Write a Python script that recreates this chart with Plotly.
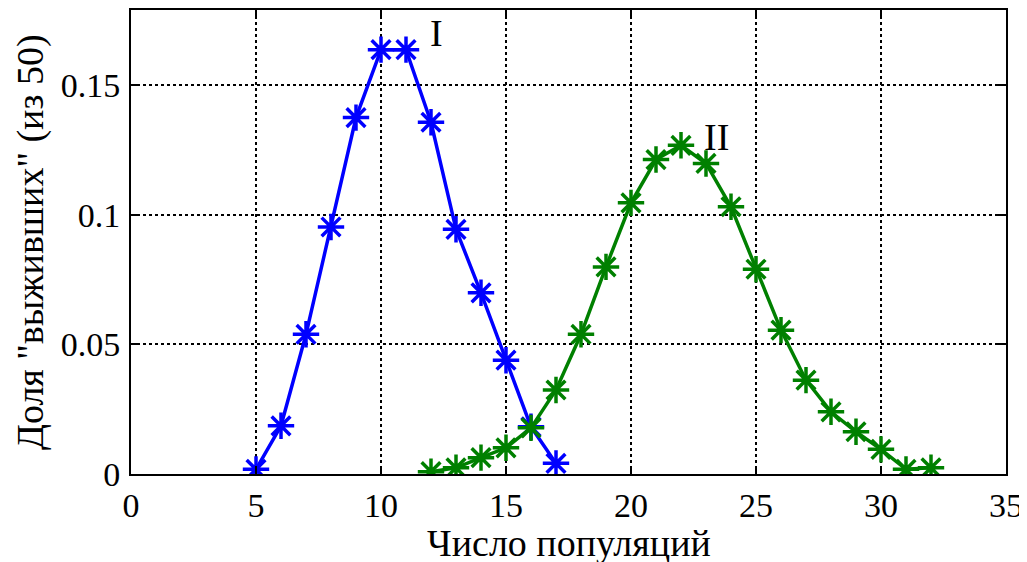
import plotly.graph_objects as go

# Data
x_I = [5, 6, 7, 8, 9, 10, 11, 12, 13, 14, 15, 16, 17]
y_I = [0.0018, 0.0186, 0.0539, 0.0953, 0.1375, 0.1637, 0.1637, 0.1357,
       0.0944, 0.0699, 0.0439, 0.0182, 0.0041]

x_II = [12, 13, 14, 15, 16, 17, 18, 19, 20, 21, 22, 23, 24, 25, 26, 27, 28,
        29, 30, 31, 32]
y_II = [0.0009, 0.0024, 0.0063, 0.0101, 0.0178, 0.0324, 0.0539, 0.0799,
        0.1046, 0.1213, 0.1268, 0.1198, 0.1031, 0.0790, 0.0555, 0.0362,
        0.0240, 0.0163, 0.0095, 0.0018, 0.0024]

x_ticks = [0, 5, 10, 15, 20, 25, 30, 35]
y_ticks = [0, 0.05, 0.1, 0.15]
y_tick_labels = ["0", "0.05", "0.1", "0.15"]

labels = ["I", "II"]
label_x = [12.2, 23.4]
label_y = [0.170, 0.130]

x_title = "Число популяций"
y_title = 'Доля "выживших" (из 50)'

FONT = "Liberation Serif"

fig = go.Figure()
for xs, ys, col in [(x_I, y_I, "#0000FF"), (x_II, y_II, "#008000")]:
    fig.add_trace(go.Scatter(
        x=xs, y=ys, mode="lines+markers",
        line=dict(color=col, width=3.5),
        marker=dict(symbol="asterisk-open", size=22,
                    line=dict(color=col, width=3.5)),
        showlegend=False,
    ))

for t, lx, ly in zip(labels, label_x, label_y):
    fig.add_annotation(x=lx, y=ly, text=t, showarrow=False,
                       font=dict(family=FONT, size=38, color="black"))

# axis titles as paper annotations (automargin disabled)
fig.add_annotation(x=0.5, y=-0.149, xref="paper", yref="paper",
                   text=x_title, showarrow=False, yanchor="middle",
                   font=dict(family=FONT, size=38, color="black"))
fig.add_annotation(x=-0.1154, y=0.5, xref="paper", yref="paper",
                   text=y_title, showarrow=False, textangle=-90,
                   xanchor="center", yanchor="middle",
                   font=dict(family=FONT, size=38, color="black"))

axis_common = dict(
    showline=True, linecolor="black", linewidth=2, mirror="ticks",
    ticks="inside", ticklen=8, tickwidth=1.5, tickcolor="black",
    showgrid=True, gridcolor="black", griddash="dot", gridwidth=1.5,
    zeroline=False, automargin=False,
    tickfont=dict(family=FONT, size=34, color="black"),
)

fig.update_xaxes(range=[0, 35], tickvals=x_ticks, ticklabelstandoff=0,
                 **axis_common)
fig.update_yaxes(range=[0, 0.179], tickvals=y_ticks, ticktext=y_tick_labels,
                 ticklabelstandoff=2, **axis_common)

# page body has an 8px default margin; margins compensate for it
fig.update_layout(
    width=1027, height=562,
    margin=dict(l=123, r=29, t=2, b=96),
    plot_bgcolor="white", paper_bgcolor="white",
)

fig.write_html("out.html")
